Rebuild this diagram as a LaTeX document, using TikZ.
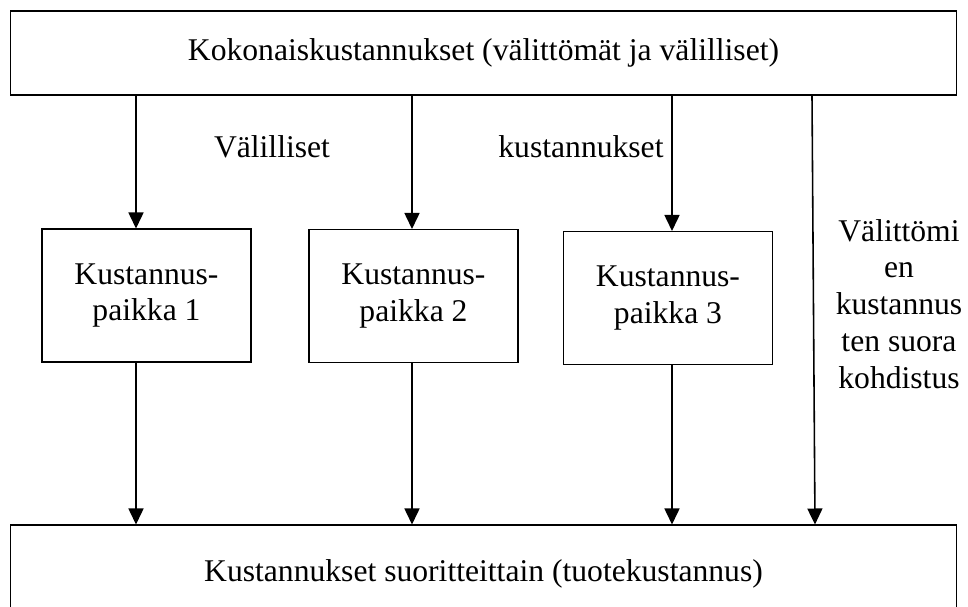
\documentclass[tikz,border=0pt]{standalone}
\usepackage{fontspec}
\setmainfont{Liberation Serif}
\usetikzlibrary{positioning,arrows.meta}

\begin{document}
\begin{tikzpicture}[x=0.02cm,y=-0.02cm,
    font=\fontsize{18}{21}\selectfont,
    box/.style={draw,line width=0.6pt,minimum width=4.18cm,minimum height=2.66cm,align=center,inner sep=0pt},
    wide/.style={draw,line width=0.6pt,minimum width=18.94cm,inner sep=0pt},
    arr/.style={line width=0.9pt,-{Triangle[length=0.32cm,width=0.3cm]}}]
    \useasboundingbox (0,0) rectangle (968,606);
    \clip (0,0) rectangle (968,606);

    % Top box
    \node[wide,minimum height=1.68cm] (total) at (483.5,53) {Kokonaiskustannukset (välittömät ja välilliset)};

    % Cost centres
    \node[box] (kp1) at (146.5,295.5) {Kustannus-\\paikka 1};
    \node[box] (kp2) at (413.5,296) {Kustannus-\\paikka 2};
    \node[box] (kp3) at (668,298) {Kustannus-\\paikka 3};

    % Bottom box
    \node[wide,minimum height=1.96cm] (product) at (483.5,574) {Kustannukset suoritteittain (tuotekustannus)};

    % Arrow columns
    \coordinate (c1) at (136,0);
    \coordinate (c2) at (412,0);
    \coordinate (c3) at (672,0);
    \coordinate (c4) at (812,0);
    \coordinate (c5) at (815,0);

    % Indirect costs
    \draw[arr] (c1 |- total.south) -- (c1 |- kp1.north);
    \draw[arr] (c2 |- total.south) -- (c2 |- kp2.north);
    \draw[arr] (c3 |- total.south) -- (c3 |- kp3.north);
    \draw[arr] (c1 |- kp1.south) -- (c1 |- product.north);
    \draw[arr] (c2 |- kp2.south) -- (c2 |- product.north);
    \draw[arr] (c3 |- kp3.south) -- (c3 |- product.north);

    % Direct costs
    \draw[arr] (c4 |- total.south) -- (c5 |- product.north);

    % Labels
    \node[anchor=base] (ind1) at (272,157) {Välilliset};
    \node[anchor=base] (ind2) at (581,157) {kustannukset};
    \node[align=center] (direct) at (899,304) {Välittömi\\en\\kustannus\\ten suora\\kohdistus};
\end{tikzpicture}
\end{document}
